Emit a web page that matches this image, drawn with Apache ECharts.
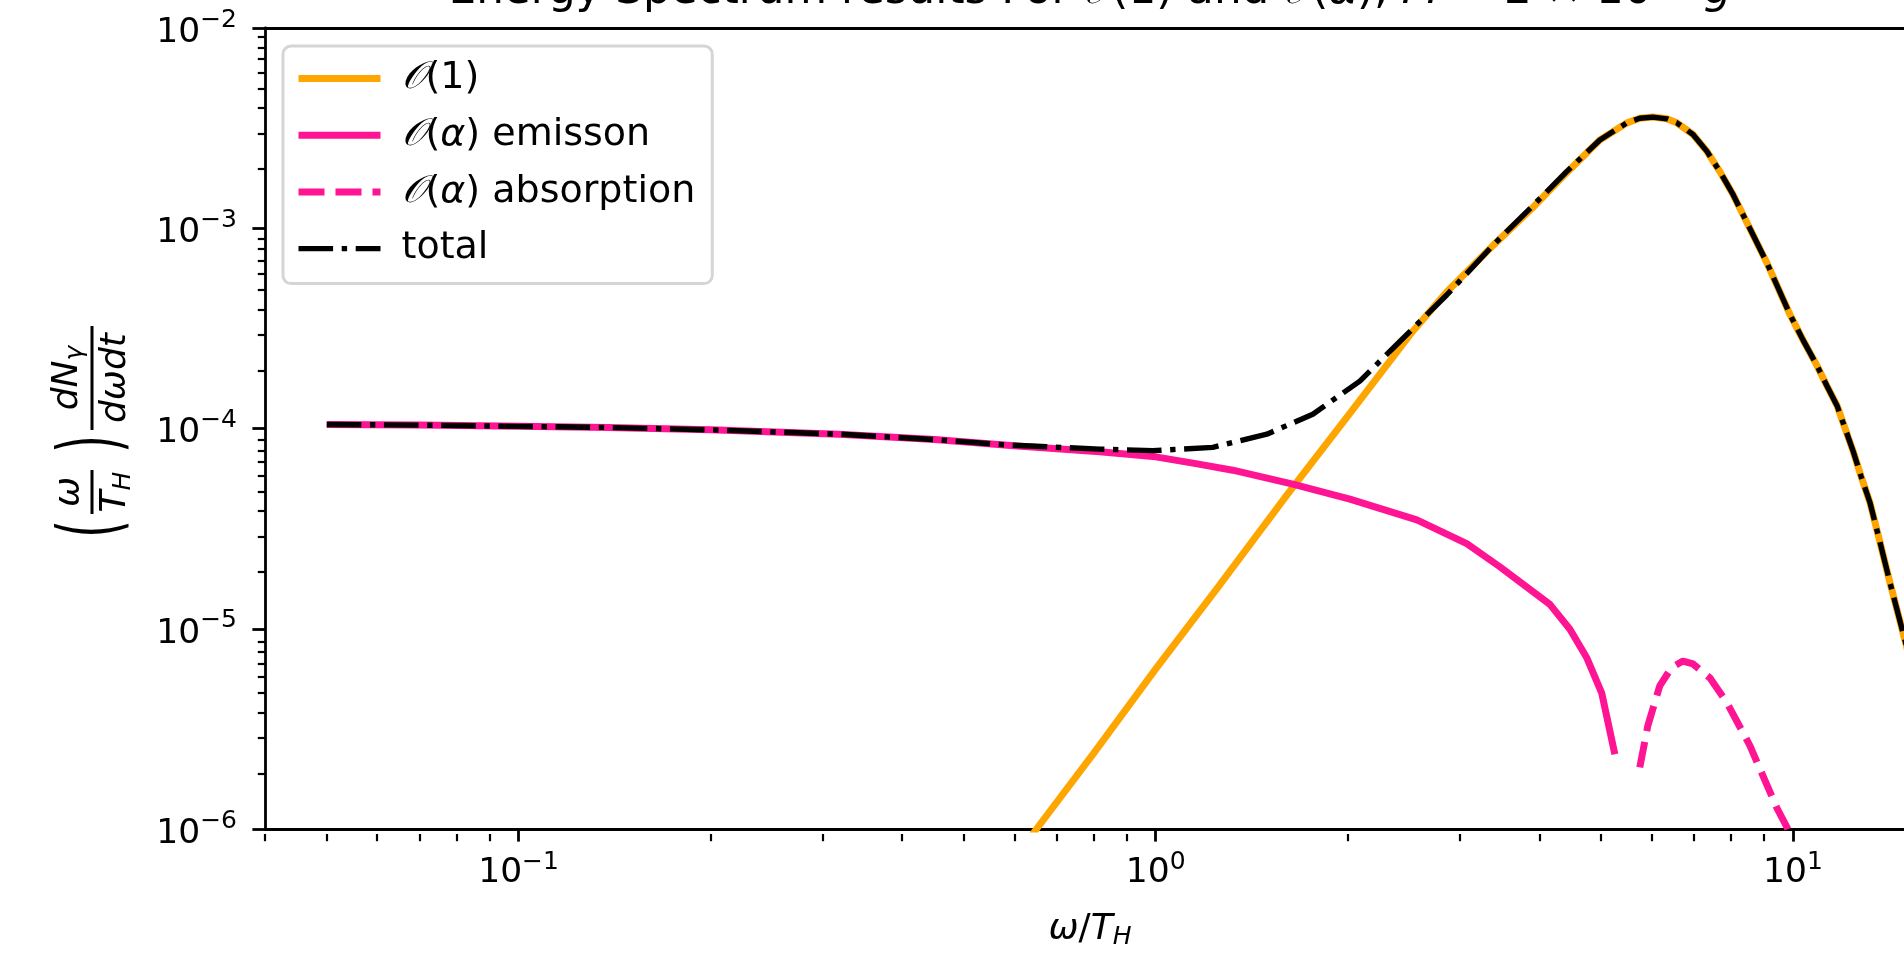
<!DOCTYPE html>
<html>
<head>
<meta charset="utf-8">
<script src="https://cdn.jsdelivr.net/npm/echarts@6/dist/echarts.min.js"></script>
<style>html,body{margin:0;padding:0;background:#fff}#c{width:1904px;height:955px}</style>
</head>
<body>
<div id="c"></div>
<script>
// ---- tick values ----
const xTicks = [0.1, 1, 10];
const xMinorTicks = [0.04, 0.05, 0.06, 0.07, 0.08, 0.09, 0.2, 0.3, 0.4, 0.5, 0.6, 0.7, 0.8, 0.9, 2, 3, 4, 5, 6, 7, 8, 9];
const yTicks = [1e-6, 1e-5, 1e-4, 1e-3, 1e-2];
const yMinorTicks = [2e-6, 3e-6, 4e-6, 5e-6, 6e-6, 7e-6, 8e-6, 9e-6,
  2e-5, 3e-5, 4e-5, 5e-5, 6e-5, 7e-5, 8e-5, 9e-5,
  2e-4, 3e-4, 4e-4, 5e-4, 6e-4, 7e-4, 8e-4, 9e-4,
  2e-3, 3e-3, 4e-3, 5e-3, 6e-3, 7e-3, 8e-3, 9e-3];

// ---- series (x = omega/T_H, y = spectrum) ----
const orderOne = [[0.6, 7.1e-7], [0.65, 1.0e-6], [0.8, 2.4e-6], [1.0, 6.3e-6], [1.25, 1.6e-5], [1.606, 4.65e-5],
  [2.0, 1.15e-4], [2.532, 3.06e-4], [2.862, 4.8e-4], [3.382, 8.19e-4], [3.907, 1.27e-3], [4.418, 1.9e-3],
  [4.977, 2.76e-3], [5.489, 3.36e-3], [5.75, 3.54e-3], [6.03, 3.59e-3], [6.34, 3.52e-3], [6.575, 3.36e-3],
  [6.97, 2.94e-3], [7.33, 2.42e-3], [7.68, 1.92e-3], [8.05, 1.479e-3], [8.56, 9.97e-4],
  [9.10, 6.73e-4], [9.89, 3.72e-4], [10.37, 2.77e-4], [10.91, 2.06e-4], [11.3, 1.64e-4], [11.73, 1.30e-4],
  [12.43, 7.71e-5], [12.8, 5.74e-5], [13.21, 4.27e-5], [13.7, 2.70e-5],
  [14.20, 1.70e-5], [14.94, 9.14e-6], [15.5, 5.8e-6]];
const emission = [[0.05, 1.047e-4], [0.07, 1.04e-4], [0.1, 1.025e-4], [0.138, 1.012e-4], [0.2, 9.85e-5],
  [0.318, 9.37e-5], [0.45, 8.8e-5], [0.592, 8.23e-5], [0.817, 7.65e-5], [1.0, 7.22e-5], [1.15, 6.7e-5], [1.321, 6.19e-5],
  [1.641, 5.27e-5], [2.017, 4.44e-5], [2.569, 3.50e-5], [3.077, 2.66e-5], [3.467, 2.04e-5], [4.155, 1.323e-5],
  [4.467, 9.94e-6], [4.75, 7.14e-6], [5.01, 4.79e-6], [5.255, 2.36e-6]];
const absorption = [[5.75, 2.03e-6], [5.92, 3.28e-6], [6.18, 5.18e-6], [6.45, 6.4e-6], [6.72, 6.9e-6], [6.97, 6.67e-6],
  [7.41, 5.68e-6], [7.88, 4.27e-6], [8.56, 2.61e-6], [9.44, 1.27e-6], [9.79, 1.02e-6], [10.0, 8.5e-7]];
const total = [[0.05, 1.047e-4], [0.07, 1.04e-4], [0.1, 1.025e-4], [0.138, 1.012e-4], [0.2, 9.85e-5],
  [0.318, 9.37e-5], [0.45, 8.8e-5], [0.592, 8.25e-5], [0.817, 7.89e-5], [0.989, 7.75e-5], [1.229, 8.05e-5],
  [1.494, 9.37e-5], [1.764, 1.178e-4], [2.091, 1.725e-4], [2.416, 2.72e-4], [2.862, 4.64e-4], [3.382, 8.22e-4],
  [3.907, 1.296e-3], [4.418, 1.923e-3], [4.977, 2.76e-3], [5.489, 3.36e-3], [5.75, 3.54e-3], [6.03, 3.59e-3],
  [6.34, 3.52e-3], [6.575, 3.36e-3], [6.97, 2.94e-3], [7.33, 2.42e-3], [7.68, 1.92e-3], [8.05, 1.479e-3],
  [8.56, 9.97e-4], [9.10, 6.73e-4], [9.89, 3.72e-4], [10.37, 2.77e-4], [10.91, 2.06e-4], [11.3, 1.64e-4],
  [11.73, 1.30e-4], [12.43, 7.71e-5], [12.8, 5.74e-5], [13.21, 4.27e-5], [13.7, 2.70e-5], [14.20, 1.70e-5],
  [14.94, 9.14e-6], [15.5, 5.8e-6]];

const legendLabels = {
  O1: '{c|𝒪}(1)',
  emission: '{c|𝒪}({i|α}) emisson',
  absorption: '{c|𝒪}({i|α}) absorption',
  total: 'total'
};

const FONT = "'DejaVu Sans', sans-serif";
const CAL = "'DejaVu Serif', 'DejaVu Sans', serif";
const ORANGE = '#ffa500', PINK = '#ff1493', BLACK = '#000000';
const DASH = [26, 11];
const DASHDOT = [34.6, 8.6, 5.4, 8.6];
const GRID = {left: 265, top: 28, right: 0, height: 806};
const X_MIN = 0.04, X_MAX = 14.94, Y_MIN = 1e-6, Y_MAX = 1e-2;

function expLabel(v) {
  const e = Math.round(Math.log10(v));
  const s = (e < 0 ? '\u2212' : '') + Math.abs(e);
  return '{b|10}{s|' + s + '}';
}
const xLabelRich = {
  b: {fontSize: 34.5, fontFamily: FONT, color: '#000', lineHeight: 36},
  s: {fontSize: 25, fontFamily: FONT, color: '#000', lineHeight: 25, padding: [0, 0, 22, 0]}
};
const yLabelRich = {
  b: {fontSize: 34.5, fontFamily: FONT, color: '#000', lineHeight: 36, padding: [10, 0, 0, 0]},
  s: {fontSize: 25, fontFamily: FONT, color: '#000', lineHeight: 25, padding: [0, 0, 16, 0]}
};
const mathRich = {
  i: {fontSize: 36, fontFamily: FONT, fontStyle: 'italic', fill: '#000'},
  sub: {fontSize: 25, fontFamily: FONT, fontStyle: 'italic', fill: '#000', padding: [14, 0, 0, 0]}
};

const chart = echarts.init(document.getElementById('c'), null, {renderer: 'canvas'});
const option = {
  animation: false,
  backgroundColor: '#ffffff',
  grid: [Object.assign({show: false}, GRID), Object.assign({show: false}, GRID)],
  xAxis: [
    {
      type: 'log', logBase: 10, gridIndex: 0, min: X_MIN, max: X_MAX,
      axisLine: {show: true, lineStyle: {color: '#000', width: 2.8}},
      axisTick: {show: true, customValues: xTicks, length: 12.6, lineStyle: {color: '#000', width: 2.8}},
      axisLabel: {customValues: xTicks, margin: 26, formatter: expLabel, rich: xLabelRich},
      splitLine: {show: false}, minorTick: {show: false},
      name: '{i|ω}/{i|T}{sub|H}', nameLocation: 'middle', nameGap: 80,
      nameTextStyle: {
        fontSize: 36, fontFamily: FONT, color: '#000', padding: [0, 0, 0, 11],
        rich: {
          i: {fontSize: 36, fontFamily: FONT, fontStyle: 'italic', color: '#000'},
          sub: {fontSize: 25, fontFamily: FONT, fontStyle: 'italic', color: '#000', padding: [16, 0, 0, 0]}
        }
      }
    },
    {
      type: 'log', logBase: 10, gridIndex: 1, min: X_MIN, max: X_MAX, position: 'bottom',
      axisLine: {show: false},
      axisTick: {show: true, customValues: xMinorTicks, length: 7.2, lineStyle: {color: '#000', width: 2.2}},
      axisLabel: {show: false}, splitLine: {show: false}
    },
    {
      type: 'log', logBase: 10, gridIndex: 1, min: X_MIN, max: X_MAX, position: 'top',
      axisLine: {show: true, lineStyle: {color: '#000', width: 2.8}},
      axisTick: {show: false}, axisLabel: {show: false}, splitLine: {show: false}
    }
  ],
  yAxis: [
    {
      type: 'log', logBase: 10, gridIndex: 0, min: Y_MIN, max: Y_MAX,
      axisLine: {show: true, lineStyle: {color: '#000', width: 2.8}},
      axisTick: {show: true, customValues: yTicks, length: 12.6, lineStyle: {color: '#000', width: 2.8}},
      axisLabel: {customValues: yTicks, margin: 28, formatter: expLabel, rich: yLabelRich},
      splitLine: {show: false}
    },
    {
      type: 'log', logBase: 10, gridIndex: 1, min: Y_MIN, max: Y_MAX,
      axisLine: {show: false},
      axisTick: {show: true, customValues: yMinorTicks, length: 7.2, lineStyle: {color: '#000', width: 2.2}},
      axisLabel: {show: false}, splitLine: {show: false}
    }
  ],
  legend: {
    orient: 'vertical', left: 283, top: 46,
    padding: [12.5, 17, 15, 12], itemGap: 16.7,
    itemWidth: 82, itemHeight: 1,
    backgroundColor: '#ffffff', borderColor: '#d5d5d5', borderWidth: 3, borderRadius: 8,
    itemStyle: {opacity: 0},
    data: [
      {name: 'O1', lineStyle: {color: ORANGE, width: 7, type: 'solid'}},
      {name: 'emission', lineStyle: {color: PINK, width: 7, type: 'solid'}},
      {name: 'absorption', lineStyle: {color: PINK, width: 7, type: DASH}},
      {name: 'total', lineStyle: {color: BLACK, width: 5.4, type: DASHDOT}}
    ],
    formatter: n => legendLabels[n],
    textStyle: {
      fontSize: 38, fontFamily: FONT, color: '#000', lineHeight: 40, padding: [0, 0, 0, 16],
      rich: {
        c: {fontSize: 38, fontFamily: CAL, fontStyle: 'italic', color: '#000', lineHeight: 40},
        i: {fontSize: 38, fontFamily: FONT, fontStyle: 'italic', color: '#000', lineHeight: 40}
      }
    }
  },
  series: [
    {name: 'O1', type: 'line', data: orderOne, symbol: 'none', smooth: false, clip: true,
      lineStyle: {color: ORANGE, width: 7, join: 'round'}, itemStyle: {color: ORANGE}, z: 2},
    {name: 'emission', type: 'line', data: emission, symbol: 'none', smooth: false, clip: true,
      lineStyle: {color: PINK, width: 7, join: 'round'}, itemStyle: {color: PINK}, z: 3},
    {name: 'absorption', type: 'line', data: absorption, symbol: 'none', smooth: false, clip: true,
      lineStyle: {color: PINK, width: 7, type: DASH}, itemStyle: {color: PINK}, z: 4},
    {name: 'total', type: 'line', data: total, symbol: 'none', smooth: false, clip: true,
      lineStyle: {color: BLACK, width: 5.4, type: DASHDOT}, itemStyle: {color: BLACK}, z: 5}
  ],
  graphic: [
    {
      type: 'text', x: 1090, y: -8, z: 10,
      style: {
        text: 'Energy Spectrum results For {c|𝒪}(1) and {c|𝒪}({i|α}), {i|M} = 2 × 10{s|15} {i|g}',
        align: 'center', verticalAlign: 'middle',
        fontSize: 43.7, fontFamily: FONT, fill: '#000',
        rich: {
          c: {fontSize: 43.7, fontFamily: CAL, fontStyle: 'italic', fill: '#000'},
          i: {fontSize: 43.7, fontFamily: FONT, fontStyle: 'italic', fill: '#000'},
          s: {fontSize: 30, fontFamily: FONT, fill: '#000', padding: [0, 0, 26, 0]}
        }
      }
    },
    {
      type: 'group', x: 92, y: 432, rotation: Math.PI / 2, z: 10,
      children: [
        {type: 'text', x: -97, y: 4, scaleX: 0.55, style: {text: '(', fontSize: 84, fontFamily: FONT, fill: '#000', align: 'center', verticalAlign: 'middle'}},
        {type: 'text', x: -60, y: -22, style: {text: 'ω', fontSize: 36, fontFamily: FONT, fontStyle: 'italic', fill: '#000', align: 'center', verticalAlign: 'middle'}},
        {type: 'line', shape: {x1: -82, y1: 0, x2: -38, y2: 0}, style: {stroke: '#000', lineWidth: 3}},
        {type: 'text', x: -60, y: 24, style: {text: '{i|T}{sub|H}', align: 'center', verticalAlign: 'middle', rich: mathRich}},
        {type: 'text', x: -12, y: 4, scaleX: 0.55, style: {text: ')', fontSize: 84, fontFamily: FONT, fill: '#000', align: 'center', verticalAlign: 'middle'}},
        {type: 'text', x: 54, y: -24, style: {text: '{i|dN}{sub|γ}', align: 'center', verticalAlign: 'middle', rich: mathRich}},
        {type: 'line', shape: {x1: 2, y1: 0, x2: 106, y2: 0}, style: {stroke: '#000', lineWidth: 3}},
        {type: 'text', x: 54, y: 24, style: {text: 'dωdt', fontSize: 36, fontFamily: FONT, fontStyle: 'italic', fill: '#000', align: 'center', verticalAlign: 'middle'}}
      ]
    }
  ]
};
chart.setOption(option);
</script>
</body>
</html>
